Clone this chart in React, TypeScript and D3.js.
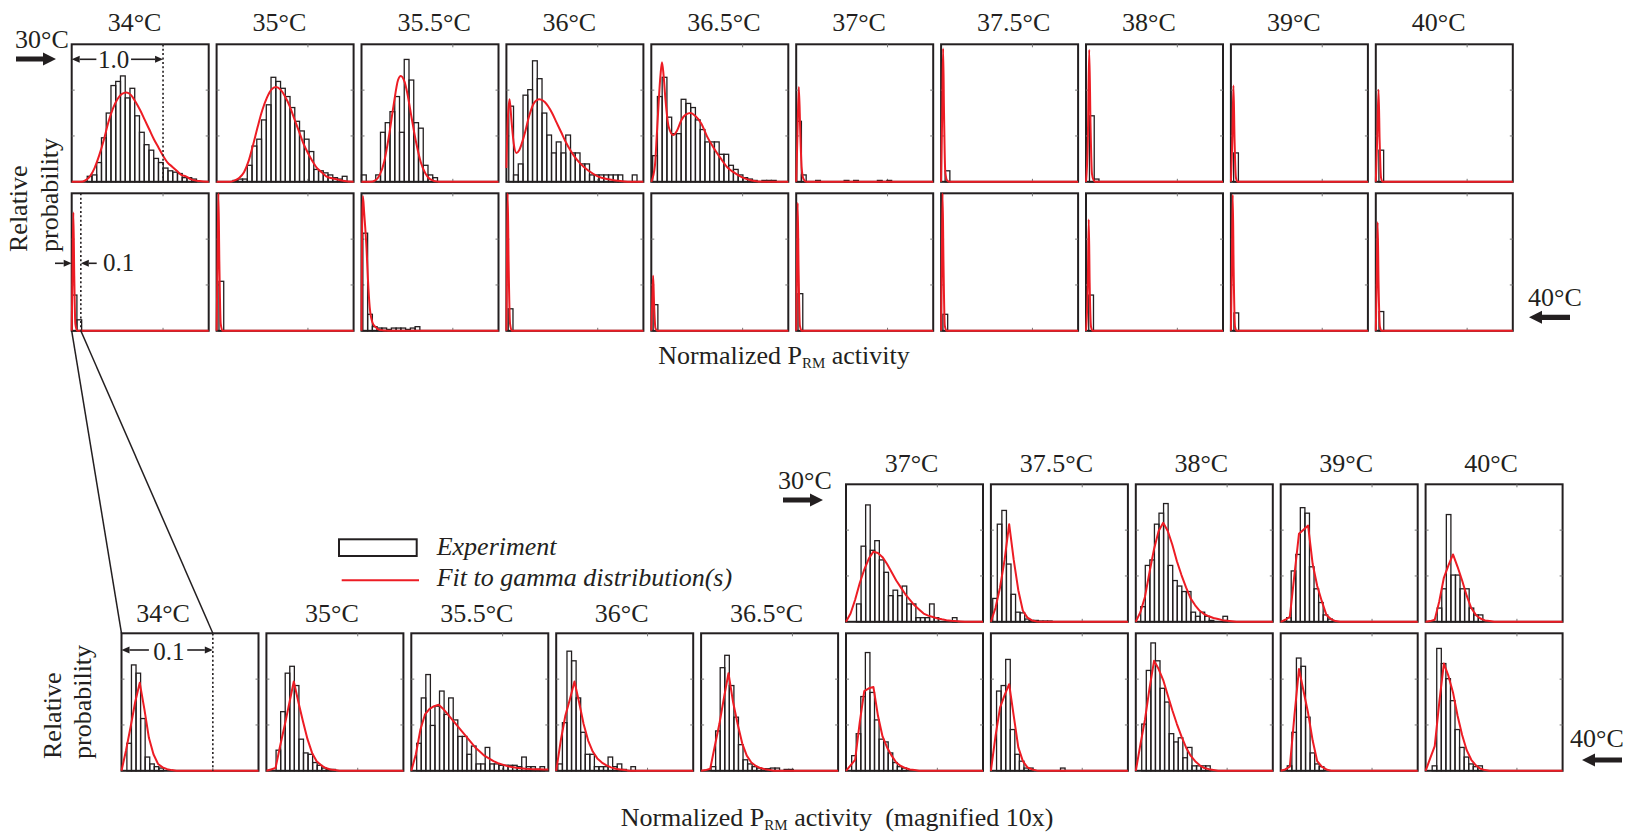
import React from 'react';
import * as d3 from 'd3';

// ---- categories ----
const allTemps = ['34°C', '35°C', '35.5°C', '36°C', '36.5°C', '37°C', '37.5°C', '38°C', '39°C', '40°C'];
const upperFineTemps = ['37°C', '37.5°C', '38°C', '39°C', '40°C'];

// ---- coarse view (normalized activity 0..1.5), bin width 0.052 ----
const coarseBin = 0.052;
const coarseMax = 1.5;

// row "30°C" (top row)
const coarse30Start = [0.17, 0.18, 0, 0.026, 0.015, 0.005, 0.044, 0.038, 0.03, 0.034];
const coarse30Hist = [
  [0.04, 0.05, 0.14, 0.32, 0.5, 0.7, 0.73, 0.77, 0.61, 0.68, 0.48, 0.36, 0.27, 0.23, 0.17, 0.14, 0.1, 0.08, 0.07, 0.06, 0.03, 0.03, 0.02],
  [0.01, 0.02, 0.02, 0.12, 0.26, 0.31, 0.45, 0.56, 0.76, 0.73, 0.68, 0.62, 0.54, 0.44, 0.37, 0.31, 0.22, 0.09, 0.08, 0.065, 0.05, 0.03, 0.02, 0.04],
  [0.05, 0, 0, 0.05, 0.36, 0.43, 0.51, 0.62, 0.36, 0.89, 0.74, 0.43, 0.39, 0.12, 0.05, 0.03],
  [0.55, 0.05, 0.13, 0.63, 0.67, 0.88, 0.75, 0.5, 0.34, 0.21, 0.29, 0.21, 0.34, 0.21, 0.21, 0.13, 0.13, 0.05, 0.05, 0.05, 0.05, 0.05, 0.05, 0.05, 0, 0, 0.05],
  [0.19, 0.62, 0.76, 0.47, 0.35, 0.35, 0.6, 0.57, 0.54, 0.45, 0.38, 0.29, 0.29, 0.29, 0.2, 0.2, 0.12, 0.09, 0.05, 0.03, 0.02, 0.01, 0, 0.01, 0.01, 0.01],
  [0.44, 0.05, 0, 0, 0.01, 0, 0, 0, 0, 0, 0.01, 0, 0.01, 0, 0, 0, 0, 0.01, 0, 0.01],
  [0.08],
  [0.48, 0.02],
  [0.21],
  [0.23],
];
const coarse30Fit: [number, number][][] = [
  [[0, 0], [0.1, 0], [0.15, 0.01], [0.2, 0.04], [0.25, 0.1], [0.3, 0.19], [0.35, 0.3], [0.4, 0.43], [0.45, 0.53], [0.5, 0.6], [0.55, 0.64], [0.6, 0.65], [0.65, 0.63], [0.7, 0.58], [0.75, 0.52], [0.8, 0.45], [0.85, 0.38], [0.9, 0.31], [0.95, 0.25], [1, 0.19], [1.05, 0.14], [1.1, 0.11], [1.15, 0.08], [1.2, 0.05], [1.25, 0.04], [1.3, 0.02], [1.4, 0.005], [1.5, 0]],
  [[0, 0], [0.15, 0], [0.2, 0.01], [0.25, 0.03], [0.3, 0.07], [0.35, 0.15], [0.4, 0.27], [0.45, 0.4], [0.5, 0.52], [0.55, 0.61], [0.6, 0.67], [0.65, 0.69], [0.7, 0.67], [0.75, 0.62], [0.8, 0.55], [0.85, 0.46], [0.9, 0.37], [0.95, 0.28], [1, 0.21], [1.05, 0.15], [1.1, 0.1], [1.15, 0.07], [1.2, 0.04], [1.3, 0.02], [1.4, 0.005], [1.5, 0]],
  [[0, 0], [0.1, 0], [0.15, 0.01], [0.2, 0.05], [0.25, 0.15], [0.3, 0.33], [0.35, 0.55], [0.4, 0.74], [0.43, 0.77], [0.47, 0.73], [0.5, 0.65], [0.55, 0.46], [0.6, 0.28], [0.65, 0.14], [0.7, 0.06], [0.75, 0.02], [0.85, 0], [1.5, 0]],
  [[0, 0.1], [0.015, 0.45], [0.035, 0.6], [0.055, 0.45], [0.08, 0.28], [0.11, 0.21], [0.14, 0.23], [0.2, 0.35], [0.25, 0.48], [0.3, 0.57], [0.36, 0.6], [0.42, 0.58], [0.5, 0.5], [0.55, 0.43], [0.6, 0.36], [0.65, 0.29], [0.7, 0.23], [0.75, 0.18], [0.8, 0.14], [0.9, 0.08], [1, 0.04], [1.1, 0.02], [1.2, 0.01], [1.35, 0], [1.5, 0]],
  [[0, 0], [0.04, 0.12], [0.062, 0.36], [0.1, 0.77], [0.117, 0.87], [0.135, 0.77], [0.155, 0.6], [0.19, 0.4], [0.24, 0.34], [0.28, 0.37], [0.33, 0.45], [0.38, 0.49], [0.43, 0.5], [0.48, 0.48], [0.55, 0.42], [0.61, 0.33], [0.68, 0.25], [0.76, 0.17], [0.84, 0.1], [0.9, 0.07], [1, 0.03], [1.1, 0.01], [1.25, 0], [1.5, 0]],
  [[0, 0], [0.012, 0.3], [0.029, 0.69], [0.045, 0.35], [0.06, 0.1], [0.08, 0.02], [0.11, 0], [1.5, 0]],
  [[0, 0], [0.012, 0.5], [0.022, 0.97], [0.032, 0.5], [0.045, 0.08], [0.065, 0.01], [0.09, 0], [1.5, 0]],
  [[0, 0], [0.02, 0.3], [0.035, 0.96], [0.05, 0.4], [0.065, 0.06], [0.085, 0.01], [0.1, 0], [1.5, 0]],
  [[0, 0], [0.015, 0.3], [0.028, 0.7], [0.04, 0.3], [0.055, 0.03], [0.075, 0], [1.5, 0]],
  [[0, 0], [0.015, 0.3], [0.03, 0.67], [0.042, 0.3], [0.057, 0.03], [0.075, 0], [1.5, 0]],
];

// row "40°C" (second row)
const coarse40Start = [0.005, 0.026, 0.015, 0.02, 0.02, 0.02, 0.02, 0.03, 0.033, 0.035];
const coarse40Hist = [
  [0.26, 0.08],
  [0.36],
  [0.71, 0.12, 0.03, 0.02, 0.02, 0.01, 0.02, 0.02, 0.02, 0.01, 0.02, 0.03],
  [0.16],
  [0.19],
  [0.27],
  [0.12],
  [0.26],
  [0.13],
  [0.14],
];
const coarse40Fit: [number, number][][] = [
  [[0, 0], [0.008, 0.4], [0.018, 0.86], [0.028, 0.4], [0.04, 0.05], [0.06, 0], [1.5, 0]],
  [[0, 0], [0.01, 0.5], [0.02, 1.0], [0.03, 0.5], [0.045, 0.05], [0.065, 0], [1.5, 0]],
  [[0, 0], [0.006, 0.7], [0.015, 0.98], [0.03, 0.85], [0.055, 0.6], [0.07, 0.38], [0.09, 0.17], [0.12, 0.06], [0.15, 0.03], [0.2, 0.005], [0.3, 0], [1.5, 0]],
  [[0, 0], [0.006, 0.5], [0.014, 1.0], [0.024, 0.5], [0.04, 0.05], [0.06, 0], [1.5, 0]],
  [[0, 0], [0.01, 0.2], [0.02, 0.4], [0.03, 0.2], [0.045, 0.02], [0.065, 0], [1.5, 0]],
  [[0, 0], [0.008, 0.45], [0.016, 0.93], [0.026, 0.45], [0.04, 0.04], [0.06, 0], [1.5, 0]],
  [[0, 0], [0.008, 0.5], [0.016, 1.0], [0.026, 0.5], [0.04, 0.04], [0.06, 0], [1.5, 0]],
  [[0, 0], [0.02, 0.35], [0.03, 0.81], [0.04, 0.35], [0.055, 0.03], [0.075, 0], [1.5, 0]],
  [[0, 0], [0.01, 0.45], [0.02, 0.99], [0.03, 0.45], [0.045, 0.03], [0.065, 0], [1.5, 0]],
  [[0, 0], [0.01, 0.35], [0.02, 0.79], [0.03, 0.35], [0.045, 0.03], [0.065, 0], [1.5, 0]],
];

// ---- fine view (magnified 10x, 0..0.15), bin width 0.005, fit sampled every 0.005 ----
const fineBin = 0.005;
const fineMax = 0.15;

const fine30Start = [0.0115, 0.002, 0.0054, 0.0065, 0.0127];
const fine30Hist = [
  [0.13, 0.55, 0.85, 0.52, 0.59, 0.45, 0.36, 0.19, 0.23, 0.19, 0.26, 0.13, 0.13, 0.03, 0.03, 0.03, 0.13, 0.03, 0, 0, 0, 0.03],
  [0.17, 0.71, 0.81, 0.42, 0.2, 0.07, 0.065, 0.02, 0.01, 0.01, 0.005, 0.005, 0.005],
  [0.11, 0.41, 0.45, 0.71, 0.79, 0.86, 0.41, 0.3, 0.26, 0.22, 0.22, 0.07, 0.04, 0.07, 0.04, 0.01, 0, 0, 0.04],
  [0.03, 0.37, 0.49, 0.83, 0.79, 0.4, 0.24, 0.14, 0.05, 0.02],
  [0.1, 0.24, 0.78, 0.34, 0.34, 0.24, 0.24, 0.1, 0.05, 0.05],
];
const fine30Fit = [
  [0, 0.06, 0.16, 0.28, 0.38, 0.46, 0.51, 0.5, 0.47, 0.42, 0.36, 0.3, 0.25, 0.2, 0.16, 0.12, 0.09, 0.06, 0.045, 0.035, 0.025, 0.018, 0.012, 0.008, 0.005, 0.003, 0],
  [0, 0.1, 0.25, 0.45, 0.71, 0.45, 0.23, 0.08, 0.03, 0.01, 0.003, 0],
  [0, 0.07, 0.18, 0.36, 0.53, 0.66, 0.72, 0.66, 0.56, 0.44, 0.34, 0.25, 0.17, 0.12, 0.08, 0.055, 0.04, 0.028, 0.02, 0.012, 0.008, 0.004, 0],
  [0, 0.015, 0.036, 0.34, 0.64, 0.67, 0.7, 0.42, 0.26, 0.15, 0.05, 0.02, 0.005, 0],
  [0, 0.005, 0.015, 0.15, 0.32, 0.41, 0.49, 0.4, 0.3, 0.19, 0.1, 0.05, 0.024, 0.01, 0.005, 0],
];

const fine40Start = [0.0059, 0.0106, 0.0059, 0.0018, 0.0109, 0.0062, 0.0062, 0.0065, 0.0072, 0.0072];
const fine40Hist = [
  [0.2, 0.77, 0.71, 0.38, 0.1, 0.05, 0.03, 0.02],
  [0.15, 0.43, 0.71, 0.76, 0.62, 0.23, 0.13, 0.12, 0.06, 0.04, 0.02, 0.01, 0.01],
  [0.2, 0.53, 0.7, 0.33, 0.47, 0.58, 0.41, 0.53, 0.37, 0.25, 0.25, 0.12, 0.18, 0.05, 0.05, 0.17, 0.05, 0.05, 0.04, 0.04, 0.04, 0.04, 0.03, 0.1, 0.03, 0.03, 0.01, 0.03],
  [0.05, 0.35, 0.87, 0.8, 0.53, 0.28, 0.12, 0.12, 0.03, 0.03, 0.03, 0.1, 0.03, 0.05, 0.01, 0, 0.03],
  [0.03, 0.29, 0.75, 0.84, 0.62, 0.39, 0.19, 0.08, 0.05, 0.03, 0.02, 0.015, 0.015, 0.02, 0.02, 0, 0.01, 0.01],
  [0.11, 0.27, 0.54, 0.86, 0.57, 0.37, 0.23, 0.21, 0.13, 0.06, 0.03, 0.02],
  [0.58, 0.62, 0.81, 0.3, 0.12, 0.07, 0.02, 0.02, 0, 0, 0, 0, 0, 0, 0.02],
  [0.34, 0.73, 0.93, 0.8, 0.6, 0.5, 0.27, 0.21, 0.24, 0.095, 0.17, 0.036, 0.036, 0.036, 0.036],
  [0.036, 0.28, 0.82, 0.76, 0.39, 0.13, 0.05, 0.03],
  [0.036, 0.89, 0.78, 0.67, 0.51, 0.3, 0.17, 0.1, 0.05, 0.03, 0.036],
];
const fine40Fit = [
  [0, 0.15, 0.32, 0.5, 0.64, 0.45, 0.24, 0.12, 0.05, 0.025, 0.012, 0.005, 0],
  [0, 0.01, 0.02, 0.18, 0.33, 0.49, 0.65, 0.5, 0.36, 0.23, 0.13, 0.07, 0.04, 0.02, 0.01, 0.005, 0],
  [0, 0.12, 0.3, 0.41, 0.45, 0.47, 0.48, 0.45, 0.41, 0.37, 0.33, 0.29, 0.25, 0.21, 0.17, 0.14, 0.11, 0.09, 0.07, 0.055, 0.045, 0.035, 0.027, 0.022, 0.018, 0.015, 0.013, 0.012, 0.011, 0.01, 0.01],
  [0, 0.22, 0.4, 0.52, 0.65, 0.5, 0.34, 0.22, 0.14, 0.09, 0.06, 0.04, 0.025, 0.015, 0.01, 0.005, 0],
  [0, 0.005, 0.015, 0.18, 0.34, 0.53, 0.71, 0.5, 0.34, 0.2, 0.11, 0.06, 0.035, 0.02, 0.012, 0.006, 0],
  [0, 0.04, 0.08, 0.35, 0.58, 0.6, 0.61, 0.4, 0.25, 0.17, 0.11, 0.06, 0.035, 0.02, 0.01, 0.005, 0],
  [0, 0.25, 0.46, 0.55, 0.63, 0.4, 0.17, 0.07, 0.025, 0.01, 0.003, 0],
  [0, 0.19, 0.37, 0.6, 0.8, 0.74, 0.66, 0.55, 0.44, 0.34, 0.25, 0.17, 0.11, 0.07, 0.04, 0.02, 0.012, 0.006, 0],
  [0, 0.01, 0.03, 0.4, 0.74, 0.58, 0.42, 0.22, 0.07, 0.03, 0.01, 0],
  [0, 0.09, 0.18, 0.5, 0.78, 0.69, 0.57, 0.4, 0.26, 0.15, 0.08, 0.04, 0.015, 0.005, 0],
];

// ---- layout ----
const W = 1628;
const H = 838;
const PW = 137;
const PH = 137.5;
const STEP = 144.9;
const TOP_X = 71.7;
const BOT_X = 121.5;
const ROW1_Y = 44.3;
const ROW2_Y = 193.3;
const ROW3_Y = 484.3;
const ROW4_Y = 633.3;

const INK = '#231f20';
const RED = '#ed1c24';
const FONT = '"Liberation Serif", "Times New Roman", serif';

const coarseX = (i: number) => d3.scaleLinear().domain([0, coarseMax]).range([TOP_X + i * STEP, TOP_X + i * STEP + PW]);
const fineX = (i: number) => d3.scaleLinear().domain([0, fineMax]).range([BOT_X + i * STEP, BOT_X + i * STEP + PW]);

type PanelProps = {
  sx: d3.ScaleLinear<number, number>;
  y: number;
  bin: number;
  start: number;
  hist: number[];
  fit: [number, number][];
  smooth: boolean;
  tick: number;
};

function Panel({ sx, y, bin, start, hist, fit, smooth, tick }: PanelProps) {
  const sy = d3.scaleLinear().domain([0, 1]).range([y + PH, y]);
  const [x0, x1] = sx.range();
  const line = d3
    .line<[number, number]>()
    .x((d) => sx(d[0]))
    .y((d) => sy(d[1]))
    .curve(smooth ? d3.curveMonotoneX : d3.curveLinear);
  const bw = sx(bin) - sx(0);
  return (
    <g>
      <rect x={x0} y={y} width={x1 - x0} height={PH} fill="#fff" stroke={INK} strokeWidth={2} />
      {[1 / 3, 2 / 3].map((t) => (
        <g key={t} stroke="#777" strokeWidth={1}>
          <line x1={x0} x2={x0 + 3} y1={sy(t)} y2={sy(t)} />
          <line x1={x1 - 3} x2={x1} y1={sy(t)} y2={sy(t)} />
        </g>
      ))}
      <g stroke="#777" strokeWidth={1}>
        <line x1={sx(tick)} x2={sx(tick)} y1={y} y2={y + 3} />
        <line x1={sx(tick)} x2={sx(tick)} y1={y + PH - 3} y2={y + PH} />
      </g>
      {hist.map((h, i) =>
        h > 0 ? (
          <rect
            key={i}
            x={sx(start + i * bin)}
            y={sy(h)}
            width={bw}
            height={sy(0) - sy(h)}
            fill="none"
            stroke={INK}
            strokeWidth={1.3}
          />
        ) : null
      )}
      <path d={line(fit) || ''} fill="none" stroke={RED} strokeWidth={2} strokeLinejoin="round" />
    </g>
  );
}

// sampled fit values -> [x, y] pairs, closed to the end of the axis along the baseline
const finePairs = (vals: number[]): [number, number][] => {
  const pts: [number, number][] = vals.map((v, i) => [i * fineBin, v]);
  if (pts[pts.length - 1][0] < fineMax) pts.push([fineMax, 0]);
  return pts;
};

function BlockArrow({ from, to, y }: { from: number; to: number; y: number }) {
  const dir = Math.sign(to - from);
  const hx = to - dir * 13;
  const pts = [
    [from, y - 2.6], [hx, y - 2.6], [hx, y - 6.5], [to, y], [hx, y + 6.5], [hx, y + 2.6], [from, y + 2.6],
  ];
  return <polygon points={pts.map((p) => p.join(',')).join(' ')} fill={INK} />;
}

function DimArrow({ from, to, y }: { from: number; to: number; y: number }) {
  const dir = Math.sign(to - from);
  const hx = to - dir * 8;
  return (
    <g>
      <line x1={from} x2={hx} y1={y} y2={y} stroke={INK} strokeWidth={1.6} />
      <polygon points={`${hx},${y - 3.5} ${to},${y} ${hx},${y + 3.5}`} fill={INK} />
    </g>
  );
}

function AxisLabel({ x, y, extra }: { x: number; y: number; extra?: string }) {
  return (
    <text x={x} y={y} textAnchor="middle" fontSize={26} fill={INK} style={{ whiteSpace: 'pre' }}>
      Normalized P
      <tspan fontSize={15} dy={4}>RM</tspan>
      <tspan dy={-4}>{' activity' + (extra || '')}</tspan>
    </text>
  );
}

function YLabel({ x1, x2, y }: { x1: number; x2: number; y: number }) {
  return (
    <g fontSize={26} fill={INK}>
      <text transform={`translate(${x1},${y}) rotate(-90)`}>Relative</text>
      <text transform={`translate(${x2},${y}) rotate(-90)`}>probability</text>
    </g>
  );
}

export default function App() {
  const dashed = { stroke: INK, strokeWidth: 1.6, strokeDasharray: '2 2.4' };
  const c0 = coarseX(0);
  const f0 = fineX(0);
  return (
    <svg
      width={W}
      height={H}
      viewBox={`0 0 ${W} ${H}`}
      style={{ position: 'absolute', left: 0, top: 0, background: '#fff' }}
      fontFamily={FONT}
    >
      <rect width={W} height={H} fill="#fff" />

      {/* top block: coarse view */}
      {allTemps.map((t, i) => {
        const sx = coarseX(i);
        return (
          <g key={'c' + t}>
            <text x={sx(0) + 36} y={31} fontSize={26} fill={INK}>{t}</text>
            <Panel sx={sx} y={ROW1_Y} bin={coarseBin} start={coarse30Start[i]} hist={coarse30Hist[i]} fit={coarse30Fit[i]} smooth tick={1} />
            <Panel sx={sx} y={ROW2_Y} bin={coarseBin} start={coarse40Start[i]} hist={coarse40Hist[i]} fit={coarse40Fit[i]} smooth tick={1} />
          </g>
        );
      })}

      {/* scale marks in the first coarse column */}
      <line x1={c0(1)} x2={c0(1)} y1={ROW1_Y} y2={ROW1_Y + PH} {...dashed} />
      <DimArrow from={c0(0.27)} to={c0(0)} y={59.3} />
      <DimArrow from={c0(0.65)} to={c0(1)} y={59.3} />
      <text x={c0(0.46)} y={67.5} textAnchor="middle" fontSize={25} fill={INK}>1.0</text>

      <line x1={c0(0.1)} x2={c0(0.1)} y1={ROW2_Y} y2={ROW2_Y + PH} {...dashed} />
      <DimArrow from={55} to={c0(0)} y={263.3} />
      <DimArrow from={96.7} to={c0(0.1)} y={263.3} />
      <text x={103} y={271} fontSize={25} fill={INK}>0.1</text>

      <text x={15} y={48} fontSize={26} fill={INK}>30°C</text>
      <BlockArrow from={16} to={56} y={59} />
      <text x={1528} y={306} fontSize={26} fill={INK}>40°C</text>
      <BlockArrow from={1570} to={1529} y={317.3} />

      <YLabel x1={27} x2={58} y={252} />
      <AxisLabel x={784} y={364} />

      {/* zoom connector */}
      <line x1={c0(0)} y1={ROW2_Y + PH} x2={f0(0)} y2={ROW4_Y} stroke={INK} strokeWidth={1.5} />
      <line x1={c0(0.1)} y1={ROW2_Y + PH} x2={f0(0.1)} y2={ROW4_Y} stroke={INK} strokeWidth={1.5} />

      {/* legend */}
      <rect x={339} y={539.3} width={77.7} height={16.7} fill="#fff" stroke={INK} strokeWidth={2} />
      <text x={436.7} y={555} fontSize={26} fontStyle="italic" fill={INK}>Experiment</text>
      <line x1={341.7} x2={419} y1={580.3} y2={580.3} stroke={RED} strokeWidth={2} />
      <text x={436.7} y={585.5} fontSize={26} fontStyle="italic" fill={INK}>Fit to gamma distribution(s)</text>

      {/* bottom block: fine view */}
      {upperFineTemps.map((t, k) => {
        const i = k + 5;
        const sx = fineX(i);
        return (
          <g key={'u' + t}>
            <text x={sx(0) + PW / 2 - 3} y={472} textAnchor="middle" fontSize={26} fill={INK}>{t}</text>
            <Panel sx={sx} y={ROW3_Y} bin={fineBin} start={fine30Start[k]} hist={fine30Hist[k]} fit={finePairs(fine30Fit[k])} smooth={false} tick={0.1} />
          </g>
        );
      })}
      {allTemps.map((t, i) => {
        const sx = fineX(i);
        return (
          <g key={'f' + t}>
            {i < 5 && (
              <text x={sx(0) + PW / 2 - (i === 0 ? 27 : 3)} y={621.7} textAnchor="middle" fontSize={26} fill={INK}>{t}</text>
            )}
            <Panel sx={sx} y={ROW4_Y} bin={fineBin} start={fine40Start[i]} hist={fine40Hist[i]} fit={finePairs(fine40Fit[i])} smooth={false} tick={0.1} />
          </g>
        );
      })}

      <line x1={f0(0.1)} x2={f0(0.1)} y1={ROW4_Y} y2={ROW4_Y + PH} {...dashed} />
      <DimArrow from={f0(0.03)} to={f0(0)} y={650} />
      <DimArrow from={f0(0.072)} to={f0(0.1)} y={650} />
      <text x={f0(0.052)} y={660} textAnchor="middle" fontSize={25} fill={INK}>0.1</text>

      <text x={778} y={489.3} fontSize={26} fill={INK}>30°C</text>
      <BlockArrow from={783} to={823} y={500} />
      <text x={1570} y={746.7} fontSize={26} fill={INK}>40°C</text>
      <BlockArrow from={1622} to={1582} y={760} />

      <YLabel x1={60.7} x2={91} y={759} />
      <AxisLabel x={837} y={826} extra="  (magnified 10x)" />
    </svg>
  );
}
